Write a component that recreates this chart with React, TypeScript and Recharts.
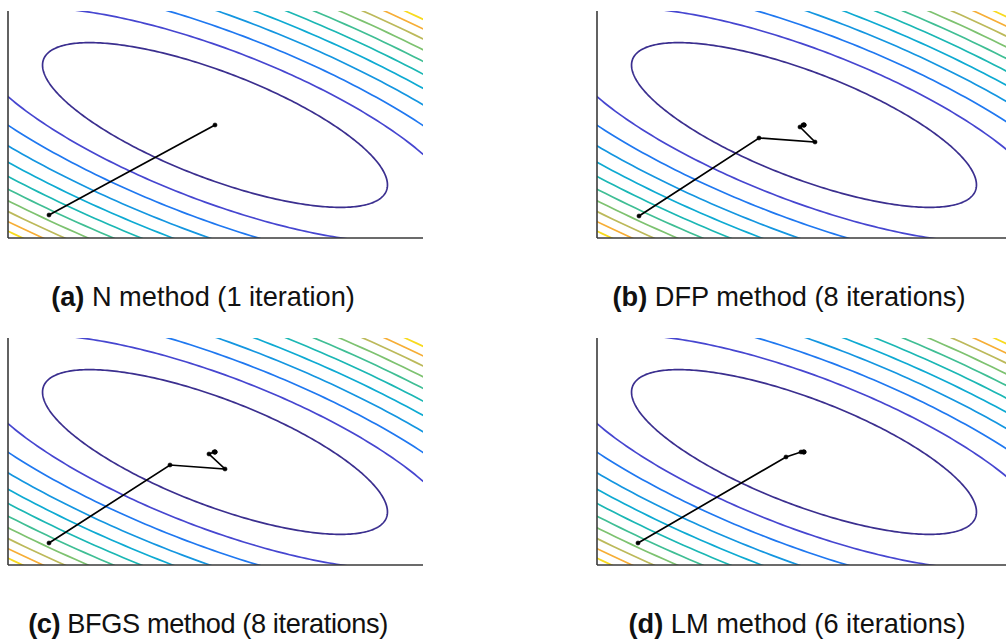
import { LineChart, Line, XAxis, YAxis, ReferenceLine } from 'recharts'

// plot units: x 0..41.5, y 0..22.7 (same for all four panels)
const xDomain = [0, 41.5]
const yDomain = [0, 22.7]

// quadratic objective
const minimum = { x: 20.7, y: 11.3 }
const quadA = 0.228
const quadB = 0.347
const quadC = 1
const levels = [32, 65, 98, 132, 165, 198, 231, 264, 297, 330, 363]
const levelColors = [
  '#3b2f8f', '#4646d0', '#1f78f0', '#1496e0', '#0eaad2', '#1bb7b4',
  '#3fbe94', '#7dc270', '#bcb95a', '#f6ae36', '#f8da1e',
]

// iterates of each method
const pathN = [
  { x: 4.1, y: 2.3 },
  { x: 20.7, y: 11.3 },
]
const pathDFP = [
  { x: 4.2, y: 2.2 },
  { x: 16.2, y: 10.0 },
  { x: 21.8, y: 9.6 },
  { x: 20.3, y: 11.1 },
  { x: 20.6, y: 11.3 },
  { x: 20.7, y: 11.3 },
  { x: 20.7, y: 11.3 },
  { x: 20.7, y: 11.3 },
  { x: 20.7, y: 11.3 },
]
const pathBFGS = [
  { x: 4.1, y: 2.2 },
  { x: 16.2, y: 10.0 },
  { x: 21.7, y: 9.6 },
  { x: 20.1, y: 11.1 },
  { x: 20.6, y: 11.3 },
  { x: 20.7, y: 11.3 },
  { x: 20.7, y: 11.3 },
  { x: 20.7, y: 11.3 },
  { x: 20.7, y: 11.3 },
]
const pathLM = [
  { x: 4.1, y: 2.2 },
  { x: 18.9, y: 10.8 },
  { x: 20.4, y: 11.3 },
  { x: 20.6, y: 11.3 },
  { x: 20.7, y: 11.3 },
  { x: 20.7, y: 11.3 },
  { x: 20.7, y: 11.3 },
]

const captionLabels = ['(a)', '(b)', '(c)', '(d)']
const captionTexts = [
  'N method (1 iteration)',
  'DFP method (8 iterations)',
  'BFGS method (8 iterations)',
  'LM method (6 iterations)',
]

function contour(level: number) {
  const tr = quadA + quadC
  const det = quadA * quadC - quadB * quadB
  const disc = Math.sqrt((tr * tr) / 4 - det)
  const l1 = tr / 2 - disc
  const l2 = tr / 2 + disc
  let ex = quadB
  let ey = l1 - quadA
  const n = Math.hypot(ex, ey)
  ex /= n
  ey /= n
  const a = Math.sqrt(level / l1)
  const b = Math.sqrt(level / l2)
  const pts = []
  for (let i = 0; i <= 360; i++) {
    const t = (i * Math.PI) / 180
    const u = a * Math.cos(t)
    const v = b * Math.sin(t)
    pts.push({ x: minimum.x + u * ex - v * ey, y: minimum.y + u * ey + v * ex })
  }
  return pts
}

const contours = levels.map(contour)

const PW = 415
const PH = 227

function Panel({ left, top, path }: { left: number; top: number; path: { x: number; y: number }[] }) {
  return (
    <div style={{ position: 'absolute', left: left - 2, top: top - 2 }}>
      <LineChart width={PW + 4} height={PH + 4} margin={{ top: 2, right: 2, bottom: 2, left: 2 }}>
        <XAxis type="number" dataKey="x" domain={xDomain} allowDataOverflow hide />
        <YAxis type="number" dataKey="y" domain={yDomain} allowDataOverflow hide />
        {contours.map((pts, i) => (
          <Line
            key={i}
            data={pts}
            dataKey="y"
            stroke={levelColors[i]}
            strokeWidth={1.7}
            dot={false}
            activeDot={false}
            isAnimationActive={false}
          />
        ))}
        <ReferenceLine x={0} stroke="#3a3a3a" strokeWidth={1.6} />
        <ReferenceLine y={0} stroke="#3a3a3a" strokeWidth={1.6} />
        <Line
          data={path}
          dataKey="y"
          stroke="#000"
          strokeWidth={1.7}
          dot={{ r: 2.1, fill: '#000', stroke: '#000', strokeWidth: 0.5 }}
          activeDot={false}
          isAnimationActive={false}
        />
      </LineChart>
    </div>
  )
}

function Caption({ i, cx, cy, spacing = 0 }: { i: number; cx: number; cy: number; spacing?: number }) {
  return (
    <div
      style={{
        position: 'absolute',
        left: cx - 250,
        top: cy - 17,
        width: 500,
        lineHeight: '34px',
        textAlign: 'center',
        fontFamily: '"Liberation Sans", Arial, sans-serif',
        fontSize: 27.2,
        letterSpacing: spacing,
        color: '#111',
        whiteSpace: 'nowrap',
      }}
    >
      <b>{captionLabels[i]}</b> {captionTexts[i]}
    </div>
  )
}

export default function App() {
  return (
    <div
      style={{
        position: 'fixed',
        left: 0,
        top: 0,
        width: 1006,
        height: 641,
        overflow: 'hidden',
        background: '#fff',
      }}
    >
      <Panel left={8} top={11} path={pathN} />
      <Panel left={596.5} top={11} path={pathDFP} />
      <Panel left={8} top={338} path={pathBFGS} />
      <Panel left={596.5} top={338} path={pathLM} />
      <Caption i={0} cx={203} cy={297} />
      <Caption i={1} cx={789} cy={297} />
      <Caption i={2} cx={208} cy={624} spacing={-0.4} />
      <Caption i={3} cx={797} cy={624} />
    </div>
  )
}
